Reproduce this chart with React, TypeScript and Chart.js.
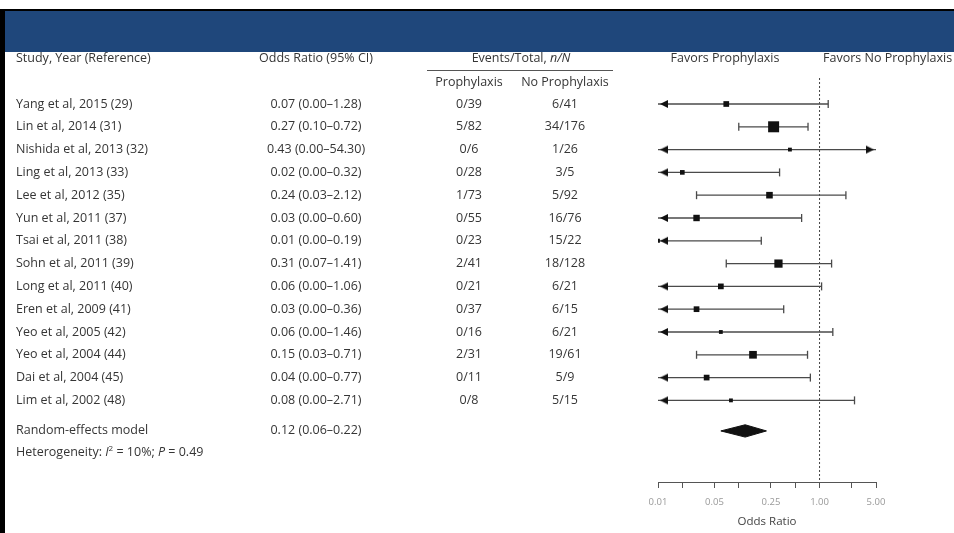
import { useEffect, useRef } from 'react';
import { Chart, registerables } from 'chart.js';

Chart.register(...registerables);

// ---------------- data ----------------
const studies = [
  'Yang et al, 2015 (29)',
  'Lin et al, 2014 (31)',
  'Nishida et al, 2013 (32)',
  'Ling et al, 2013 (33)',
  'Lee et al, 2012 (35)',
  'Yun et al, 2011 (37)',
  'Tsai et al, 2011 (38)',
  'Sohn et al, 2011 (39)',
  'Long et al, 2011 (40)',
  'Eren et al, 2009 (41)',
  'Yeo et al, 2005 (42)',
  'Yeo et al, 2004 (44)',
  'Dai et al, 2004 (45)',
  'Lim et al, 2002 (48)',
];
const oddsRatio = [0.07, 0.27, 0.43, 0.02, 0.24, 0.03, 0.01, 0.31, 0.06, 0.03, 0.06, 0.15, 0.04, 0.08];
const ciLower = [0.0, 0.1, 0.0, 0.0, 0.03, 0.0, 0.0, 0.07, 0.0, 0.0, 0.0, 0.03, 0.0, 0.0];
const ciUpper = [1.28, 0.72, 54.3, 0.32, 2.12, 0.6, 0.19, 1.41, 1.06, 0.36, 1.46, 0.71, 0.77, 2.71];
const eventsProphylaxis = ['0/39', '5/82', '0/6', '0/28', '1/73', '0/55', '0/23', '2/41', '0/21', '0/37', '0/16', '2/31', '0/11', '0/8'];
const eventsNoProphylaxis = ['6/41', '34/176', '1/26', '3/5', '5/92', '16/76', '15/22', '18/128', '6/21', '6/15', '6/21', '19/61', '5/9', '5/15'];
// estimated relative study weights (%)
const studyWeights = [6.0, 22.3, 2.7, 4.0, 8.0, 7.6, 2.7, 12.5, 6.0, 6.0, 2.7, 10.9, 6.0, 2.7];

const pooledLabel = 'Random-effects model';
const pooledOR = 0.12;
const pooledLower = 0.06;
const pooledUpper = 0.22;
const heterogeneityI2 = '10%';
const heterogeneityP = '0.49';

const axisTicks = [0.01, 0.02, 0.05, 0.1, 0.25, 0.5, 1, 2.5, 5];
const axisLabelTicks = [0.01, 0.05, 0.25, 1, 5];
const AXIS_MIN = 0.01;
const AXIS_MAX = 5;

// ---------------- layout / style ----------------
const Y_MIN = -1.14;
const Y_MAX = 16.58;
const POOLED_ROW = 14.34;
const HET_ROW = 15.3;
const DIAMOND_HALF = 0.27;
const FONT = '"Open Sans", "DejaVu Sans", sans-serif';
const TEXT = '#353535';
const CI_COLOR = '#4a4a4a';
const MARK = '#111111';
const BLUE = '#1f477b';
const FS = 12.5;

const fmt = (v: number) => v.toFixed(2);
const ciText = (o: number, l: number, u: number) => `${fmt(o)} (${fmt(l)}\u2013${fmt(u)})`;

type Seg = { t: string; it?: boolean; sup?: boolean };

function drawRich(ctx: CanvasRenderingContext2D, segs: Seg[], x: number, y: number, align: 'left' | 'center', size = FS) {
  const fontFor = (s: Seg) => `${s.it ? 'italic ' : ''}${s.sup ? Math.round(size * 0.65) : size}px ${FONT}`;
  let w = 0;
  for (const s of segs) {
    ctx.font = fontFor(s);
    w += ctx.measureText(s.t).width;
  }
  let cx = align === 'center' ? x - w / 2 : x;
  ctx.textAlign = 'left';
  for (const s of segs) {
    ctx.font = fontFor(s);
    ctx.fillText(s.t, cx, s.sup ? y - size * 0.35 : y);
    cx += ctx.measureText(s.t).width;
  }
}

function makeArrow(dir: 'left' | 'right') {
  const c = document.createElement('canvas');
  c.width = 24;
  c.height = 10;
  const g = c.getContext('2d')!;
  g.fillStyle = MARK;
  g.beginPath();
  if (dir === 'left') {
    g.moveTo(14, 5);
    g.lineTo(22, 1);
    g.lineTo(22, 9);
  } else {
    g.moveTo(10, 5);
    g.lineTo(2, 1);
    g.lineTo(2, 9);
  }
  g.closePath();
  g.fill();
  return c;
}

const textPlugin = {
  id: 'forestText',
  beforeDraw(chart: any) {
    const { ctx, width, height } = chart;
    ctx.save();
    ctx.fillStyle = '#ffffff';
    ctx.fillRect(0, 0, width, height);
    ctx.fillStyle = '#000000';
    ctx.fillRect(0, 9, width, 2);
    ctx.fillRect(0, 9, 5, height - 9);
    ctx.fillStyle = BLUE;
    ctx.fillRect(5, 11, width - 5, 41);
    ctx.restore();
  },
  afterDraw(chart: any) {
    const ctx: CanvasRenderingContext2D = chart.ctx;
    const ys = chart.scales.y;
    ctx.save();
    ctx.fillStyle = TEXT;
    ctx.textBaseline = 'middle';

    // headers
    drawRich(ctx, [{ t: 'Study, Year (Reference)' }], 16, 58, 'left');
    drawRich(ctx, [{ t: 'Odds Ratio (95% CI)' }], 316, 58, 'center');
    drawRich(ctx, [{ t: 'Events/Total, ' }, { t: 'n/N', it: true }], 521, 58, 'center');
    drawRich(ctx, [{ t: 'Favors Prophylaxis' }], 725, 58, 'center');
    drawRich(ctx, [{ t: 'Favors No Prophylaxis' }], 823, 58, 'left');
    drawRich(ctx, [{ t: 'Prophylaxis' }], 469, 82, 'center');
    drawRich(ctx, [{ t: 'No Prophylaxis' }], 565, 82, 'center');
    ctx.strokeStyle = '#555';
    ctx.lineWidth = 1;
    ctx.beginPath();
    ctx.moveTo(427, 70.5);
    ctx.lineTo(613, 70.5);
    ctx.stroke();

    // rows
    studies.forEach((s, i) => {
      const y = ys.getPixelForValue(i);
      drawRich(ctx, [{ t: s }], 16, y, 'left');
      drawRich(ctx, [{ t: ciText(oddsRatio[i], ciLower[i], ciUpper[i]) }], 316, y, 'center');
      drawRich(ctx, [{ t: eventsProphylaxis[i] }], 469, y, 'center');
      drawRich(ctx, [{ t: eventsNoProphylaxis[i] }], 565, y, 'center');
    });
    const py = ys.getPixelForValue(POOLED_ROW);
    drawRich(ctx, [{ t: pooledLabel }], 16, py, 'left');
    drawRich(ctx, [{ t: ciText(pooledOR, pooledLower, pooledUpper) }], 316, py, 'center');
    const hy = ys.getPixelForValue(HET_ROW);
    drawRich(
      ctx,
      [
        { t: 'Heterogeneity: ' },
        { t: 'I', it: true },
        { t: '2', sup: true },
        { t: ` = ${heterogeneityI2}; ` },
        { t: 'P', it: true },
        { t: ` = ${heterogeneityP}` },
      ],
      16,
      hy,
      'left'
    );
    ctx.restore();
  },
};

export default function App() {
  const ref = useRef<HTMLCanvasElement | null>(null);

  useEffect(() => {
    document.body.style.margin = '0';
    if (!ref.current) return;

    const ciDatasets = studies.map((_, i) => ({
      data: [
        { x: Math.max(ciLower[i], AXIS_MIN), y: i },
        { x: Math.min(ciUpper[i], AXIS_MAX), y: i },
      ],
      showLine: true,
      borderColor: CI_COLOR,
      borderWidth: 1.3,
      pointRadius: 0,
      order: 2,
    }));

    const caps: { x: number; y: number }[] = [];
    const leftArrows: { x: number; y: number }[] = [];
    const rightArrows: { x: number; y: number }[] = [];
    studies.forEach((_, i) => {
      if (ciLower[i] >= AXIS_MIN) caps.push({ x: ciLower[i], y: i });
      else leftArrows.push({ x: AXIS_MIN, y: i });
      if (ciUpper[i] <= AXIS_MAX) caps.push({ x: ciUpper[i], y: i });
      else rightArrows.push({ x: AXIS_MAX, y: i });
    });

    const maxW = Math.max(...studyWeights);
    const boxRadius = studyWeights.map((w) => (11 * Math.sqrt(w / maxW)) / Math.SQRT2);

    const chart = new Chart(ref.current, {
      type: 'scatter',
      data: {
        datasets: [
          {
            data: oddsRatio.map((o, i) => ({ x: o, y: i })),
            pointStyle: 'rect',
            pointRadius: boxRadius,
            backgroundColor: MARK,
            borderColor: MARK,
            borderWidth: 0,
            order: 0,
          } as any,
          {
            data: [
              { x: pooledLower, y: POOLED_ROW },
              { x: pooledOR, y: POOLED_ROW - DIAMOND_HALF },
              { x: pooledUpper, y: POOLED_ROW },
              { x: pooledOR, y: POOLED_ROW + DIAMOND_HALF },
              { x: pooledLower, y: POOLED_ROW },
            ],
            showLine: true,
            fill: 'shape',
            tension: 0,
            backgroundColor: MARK,
            borderColor: MARK,
            borderWidth: 1,
            pointRadius: 0,
            order: 0,
          },
          {
            data: leftArrows,
            pointStyle: makeArrow('left'),
            pointRadius: 5,
            clip: false,
            order: 1,
          } as any,
          {
            data: rightArrows,
            pointStyle: makeArrow('right'),
            pointRadius: 5,
            clip: false,
            order: 1,
          } as any,
          {
            data: caps,
            pointStyle: 'line',
            rotation: 90,
            pointRadius: 4,
            borderColor: CI_COLOR,
            borderWidth: 1.3,
            order: 1,
          } as any,
          ...ciDatasets,
          {
            data: [
              { x: 1, y: Y_MIN },
              { x: 1, y: Y_MAX },
            ],
            showLine: true,
            borderColor: '#444',
            borderWidth: 1,
            borderDash: [2, 2],
            pointRadius: 0,
            order: 3,
          },
        ],
      },
      options: {
        animation: false,
        responsive: false,
        events: [],
        devicePixelRatio: 1,
        layout: { padding: { left: 658, right: 78, top: 78, bottom: 0 } },
        plugins: { legend: { display: false }, tooltip: { enabled: false } },
        scales: {
          x: {
            type: 'logarithmic',
            position: 'bottom',
            min: AXIS_MIN,
            max: AXIS_MAX,
            afterBuildTicks: (axis: any) => {
              axis.ticks = axisTicks.map((v) => ({ value: v }));
            },
            afterFit: (axis: any) => {
              axis.height = 51;
            },
            grid: { display: true, drawOnChartArea: false, drawTicks: true, tickLength: 6, color: '#555', lineWidth: 1 },
            border: { display: true, color: '#555', width: 1 },
            ticks: {
              autoSkip: false,
              maxRotation: 0,
              padding: 9,
              color: '#999',
              font: { family: FONT, size: 9.5 },
              callback: (v: any) => (axisLabelTicks.includes(Number(v)) ? fmt(Number(v)) : ''),
            },
            title: {
              display: true,
              text: 'Odds Ratio',
              color: '#444',
              font: { family: FONT, size: 11.5 },
              padding: { top: 0, bottom: 4 },
            },
          },
          y: {
            type: 'linear',
            display: false,
            min: Y_MIN,
            max: Y_MAX,
            reverse: true,
          },
        },
      },
      plugins: [textPlugin],
    } as any);

    return () => chart.destroy();
  }, []);

  return (
    <div style={{ width: 954, height: 533 }}>
      <canvas ref={ref} width={954} height={533} style={{ display: 'block' }} />
    </div>
  );
}
